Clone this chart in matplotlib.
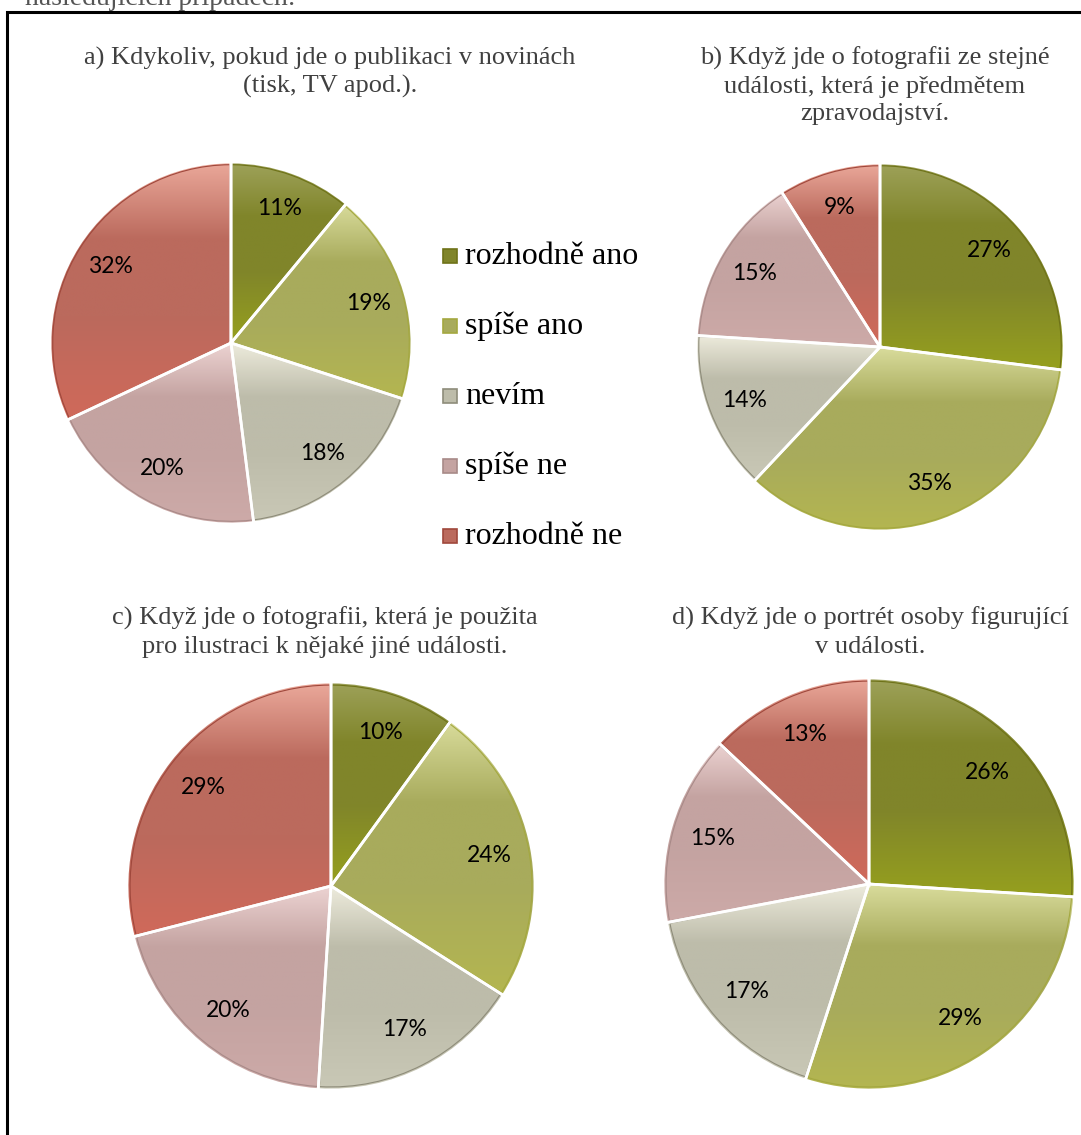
import numpy as np
import matplotlib.pyplot as plt
from matplotlib.patches import Rectangle, Wedge
from matplotlib.colors import to_rgb

W, H = 1081, 1135

categories = ['rozhodně ano', 'spíše ano', 'nevím', 'spíše ne', 'rozhodně ne']
base_colors = ['#80852a', '#a8ab5c', '#bdbcaa', '#c4a3a1', '#bb6a5d']
top_colors = ['#9ea25a', '#d9dc9c', '#edebdc', '#ecd3d2', '#eba99b']
bottom_colors = ['#96a01e', '#b4b650', '#c9c8b6', '#cdaaa8', '#d0695a']
rim_colors = ['#6e7218', '#a4a840', '#8e8c7a', '#a88a88', '#a0483c']

values_a = [11, 19, 18, 20, 32]
values_b = [27, 35, 14, 15, 9]
values_c = [10, 24, 17, 20, 29]
values_d = [26, 29, 17, 15, 13]

title_a = 'a) Kdykoliv, pokud jde o publikaci v novinách\n(tisk, TV apod.).'
title_b = 'b) Když jde o fotografii ze stejné\nudálosti, která je předmětem\nzpravodajství.'
title_c = 'c) Když jde o fotografii, která je použita\npro ilustraci k nějaké jiné události.'
title_d = 'd) Když jde o portrét osoby figurující\nv události.'

fig = plt.figure(figsize=(W / 100, H / 100), dpi=100)

serif = 'Liberation Serif'
sans = 'Lato'


def px_axes(cx, cy, r):
    # axes whose unit circle sits at pixel centre (cx, cy) with radius r
    half = 1.1 * r
    ax = fig.add_axes([(cx - half) / W, (H - cy - half) / H, 2 * half / W, 2 * half / H])
    ax.set_xlim(-1.1, 1.1)
    ax.set_ylim(-1.1, 1.1)
    ax.set_aspect('equal')
    ax.axis('off')
    return ax


def slice_gradient(i):
    top = np.array(to_rgb(top_colors[i]))
    base = np.array(to_rgb(base_colors[i]))
    bot = np.array(to_rgb(bottom_colors[i]))
    t = np.linspace(0, 1, 256)[:, None]
    upper = np.clip(t / 0.3, 0, 1)
    lower = np.clip((t - 0.6) / 0.4, 0, 1)
    grad = top * (1 - upper) + base * upper
    grad = grad * (1 - lower) + bot * lower
    return grad[:, None, :]


def gradient_pie(ax, values):
    wedges, texts = ax.pie(values, startangle=90, counterclock=False, radius=1,
                           colors=base_colors, labels=[f'{v}%' for v in values],
                           labeldistance=0.79,
                           wedgeprops=dict(edgecolor='white', linewidth=2.5),
                           textprops=dict(fontsize=16.5, family=sans, color='black'))
    for i, w in enumerate(wedges):
        ext = w.get_path().get_extents()
        img = ax.imshow(slice_gradient(i), extent=[ext.x0, ext.x1, ext.y0, ext.y1],
                        aspect='auto', zorder=1.5, interpolation='bilinear')
        img.set_clip_path(w)
        # thin darker rim just inside the white gap
        th1, th2 = w.theta1, w.theta2
        ax.add_patch(Wedge((0, 0), 0.985, th1 + 0.3, th2 - 0.3, fill=False,
                           edgecolor=rim_colors[i], linewidth=0.8, zorder=1.6))
        ax.add_patch(Wedge((0, 0), 1.0, th1, th2, fill=False,
                           edgecolor='white', linewidth=2.0, zorder=1.7))
    for t in texts:
        t.set_zorder(3)
        t.set_ha('center')
        t.set_va('center')
    ax.set_xlim(-1.1, 1.1)
    ax.set_ylim(-1.1, 1.1)


def title_at(x, y, text):
    fig.text(x / W, 1 - y / H, text, ha='center', va='top', fontsize=19,
             family=serif, color='#404040', linespacing=1.3)


ax_a = px_axes(231, 343, 181)
gradient_pie(ax_a, values_a)
ax_b = px_axes(880, 347, 184)
gradient_pie(ax_b, values_b)
ax_c = px_axes(331, 886, 204)
gradient_pie(ax_c, values_c)
ax_d = px_axes(869, 884, 206)
gradient_pie(ax_d, values_d)

title_at(330, 47, title_a)
title_at(875, 47, title_b)
title_at(325, 607, title_c)
title_at(870, 607, title_d)

# legend, one row per category
for i, cat in enumerate(categories):
    y = 256 + 70 * i
    fig.add_artist(Rectangle((443 / W, 1 - (y + 7) / H), 14 / W, 14 / H,
                             transform=fig.transFigure, facecolor=base_colors[i],
                             edgecolor=rim_colors[i], linewidth=1.2))
    fig.text(465 / W, 1 - y / H, cat, ha='left', va='center', fontsize=23,
             family=serif, color='black')

# cut-off sentence above the frame
fig.text(25 / W, 1 - 5 / H, 'následujících případech:', ha='left', va='baseline',
         fontsize=20, family=serif, color='#555555')

fig.add_artist(Rectangle((7 / W, -0.05), 1.1, 1 - 12 / H + 0.05, transform=fig.transFigure,
                         fill=False, edgecolor='black', linewidth=2.2, clip_on=False))

fig.savefig('out.png', dpi=100)
